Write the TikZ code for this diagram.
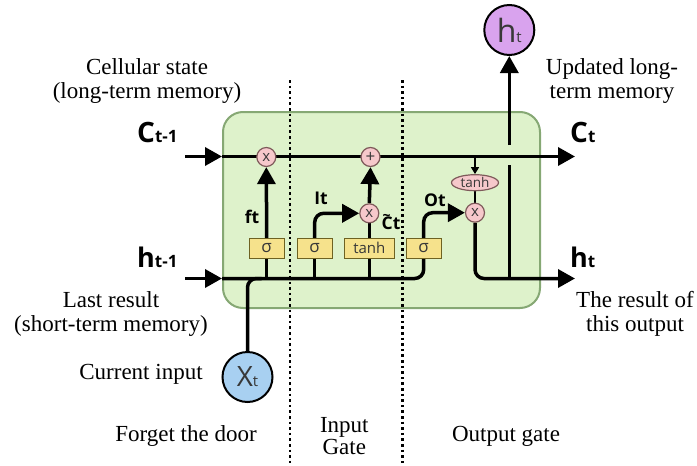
\documentclass[tikz,border=0pt]{standalone}
\usepackage{fontspec}
\setmainfont{Liberation Serif}
\newfontfamily\osans{Open Sans}
\usetikzlibrary{arrows.meta,shapes.geometric}
\definecolor{cellfill}{HTML}{DEF2CB}
\definecolor{celldraw}{HTML}{86A874}
\definecolor{opfill}{HTML}{F6C8CB}
\definecolor{opline}{HTML}{7E5A5A}
\definecolor{gatefill}{HTML}{F6E28C}
\definecolor{gateline}{HTML}{6E6222}
\definecolor{txtdark}{HTML}{383838}
\definecolor{htfill}{HTML}{D9A3EE}
\definecolor{xtfill}{HTML}{A8D0F1}
\pgfdeclarelayer{bg}
\pgfdeclarelayer{mid}
\pgfsetlayers{bg,mid,main}
\begin{document}
\begin{tikzpicture}[x=1pt,y=-1pt,
  flow/.style={line width=3.5pt, draw=black},
  bigtip/.style={-{Triangle[length=17pt,width=18pt]}},
  gatebox/.style={draw=gateline, fill=gatefill, line width=1pt, minimum width=35pt,
    minimum height=20pt, inner sep=0pt, text=txtdark, font=\osans\fontsize{17}{17}\selectfont},
  op/.style={circle, draw=opline, fill=opfill, line width=1.2pt, minimum size=19pt,
    inner sep=0pt, text=txtdark, font=\osans\fontsize{15}{15}\selectfont},
  tanhop/.style={ellipse, draw=opline, fill=opfill, line width=1.2pt, minimum width=47pt,
    minimum height=16pt, inner sep=0pt, text=txtdark, font=\osans\fontsize{13.5}{13.5}\selectfont},
  lbl/.style={font=\fontsize{23}{24}\selectfont, align=center, inner sep=0pt},
  glbl/.style={font=\osans\bfseries\fontsize{17.5}{17.5}\selectfont, inner sep=0pt},
  biglbl/.style={inner sep=0pt, anchor=base west},
  divider/.style={line width=2.6pt, dash pattern=on 2.6pt off 3pt},
  state/.style={circle, draw=black, line width=2pt, minimum size=50pt, inner sep=0pt, text=txtdark}
]
\useasboundingbox (0,0) rectangle (697,466);

% cell box
\begin{pgfonlayer}{bg}
\node[draw=celldraw, fill=cellfill, line width=2pt, rounded corners=20pt,
  minimum width=317pt, minimum height=196pt, inner sep=0pt] (cell) at (381.5,210) {};
\end{pgfonlayer}

% operators and gates
\node[gatebox] (sig1) at (266.7,248.3) {σ};
\node[gatebox] (sig2) at (314.7,248.3) {σ};
\node[gatebox, minimum width=50pt, font=\osans\fontsize{15}{15}\selectfont] (tnb) at (369.3,248.3) {tanh};
\node[gatebox] (sig4) at (423.7,248.3) {σ};
\node[op] (fx) at (266.3,157) {x};
\node[op, font=\osans\fontsize{17}{17}\selectfont] (pl) at (370.5,157) {+};
\node[op] (ix) at (369.3,213.3) {x};
\node[op] (ox) at (475,212.7) {x};
\node[tanhop] (te) at (475,182.7) {tanh};
\node[state, fill=xtfill] (xt) at (247.5,377)
  {\osans\fontsize{28}{28}\selectfont X\fontsize{15}{15}\selectfont t};
\node[state, fill=htfill] (ht) at (509.3,30)
  {\osans\fontsize{32}{32}\selectfont h\fontsize{15}{15}\selectfont t};

% coordinates
\coordinate (cin) at (185,156.5);
\coordinate (cl) at (222,156.5);
\coordinate (cout) at (575,156.5);
\coordinate (hin) at (185,278.5);
\coordinate (hl) at (222,278.5);
\coordinate (hout) at (575,278.5);
\coordinate (d1t) at (290,80);
\coordinate (d1b) at (290,466);
\coordinate (d2t) at (402.7,80);
\coordinate (d2b) at (402.7,466);
\coordinate (upb) at (509.3,278.5);
\coordinate (upg1) at (509.3,165);
\coordinate (upg2) at (509.3,145);
\coordinate (ctap) at (475,156.5);

\begin{pgfonlayer}{mid}
\draw[divider] (d1t) -- (d1b);
\draw[divider] (d2t) -- (d2b);
% cell state line
\draw[flow, bigtip] (cin) -- (cl);
\draw[flow, bigtip] (cl) -- (cout);
% hidden line
\draw[flow, bigtip] (hin) -- (hl);
\draw[flow, rounded corners=9pt] (hl) -- (sig4.south |- hl) -- (sig4.south);
\draw[flow, rounded corners=9pt] (xt.north) -- (xt.north |- hl) -- ([xshift=14pt]xt.north |- hl);
\draw[flow] (sig1.south |- hl) -- (sig1.south);
\draw[flow] (sig2.south |- hl) -- (sig2.south);
\draw[flow] (tnb.south |- hl) -- (tnb.south);
% forget gate
\draw[flow, bigtip] (sig1.north) -- (fx.south);
% input gate
\draw[flow, bigtip, rounded corners=9pt] (sig2.north) -- (sig2.north |- ix) -- (ix.west);
\draw[flow] (tnb.north) -- (ix.south);
\draw[flow, bigtip] (ix.north) -- (pl.south);
% output gate
\draw[flow, bigtip, rounded corners=9pt] (sig4.north) -- (sig4.north |- ox) -- (ox.west);
\draw[line width=1.6pt, -{Triangle[length=7pt,width=8pt]}] (ctap) -- (te.north);
\draw[line width=2pt] (te.south) -- (ox.north);
\draw[flow, bigtip, rounded corners=9pt] (ox.south) -- (ox.south |- hout) -- (hout);
\draw[flow] (upb) -- (upg1);
\draw[flow, bigtip] (upg2) -- (ht.south);
\end{pgfonlayer}

% gate labels
\node[glbl] (lft) at (252,217) {ft};
\node[glbl] (lit) at (321,198) {It};
\node[glbl] (lct) at (391,222) {\rlap{\raisebox{9pt}{\hspace{1pt}\fontsize{14}{14}\selectfont\textasciitilde}}Ct};
\node[glbl] (lot) at (435,200) {Ot};

% big labels
\node[biglbl] (lc1) at (137,142) {\osans\bfseries\fontsize{28}{28}\selectfont C\fontsize{17}{17}\selectfont t-1};
\node[biglbl] (lh1) at (137,267) {\osans\bfseries\fontsize{27}{27}\selectfont h\fontsize{17}{17}\selectfont t-1};
\node[biglbl] (lc2) at (570,142) {\osans\bfseries\fontsize{28}{28}\selectfont C\fontsize{17}{17}\selectfont t};
\node[biglbl] (lh2) at (570,267) {\osans\bfseries\fontsize{27}{27}\selectfont h\fontsize{17}{17}\selectfont t};

% text labels
\node[lbl] (tcs) at (147,81) {Cellular state\\(long-term memory)};
\node[lbl] (tul) at (612,81) {Updated long-\\term memory};
\node[lbl] (tlr) at (111,314) {Last result\\(short-term memory)};
\node[lbl] (tro) at (635,313.5) {The result of\\this output};
\node[lbl] (tci) at (141,374) {Current input};
\node[lbl] (tfg) at (186,436) {Forget the door};
\node[lbl, font=\fontsize{23}{22}\selectfont] (tig) at (344.3,436) {Input\\Gate};
\node[lbl] (tog) at (506,436) {Output gate};
\end{tikzpicture}
\end{document}
